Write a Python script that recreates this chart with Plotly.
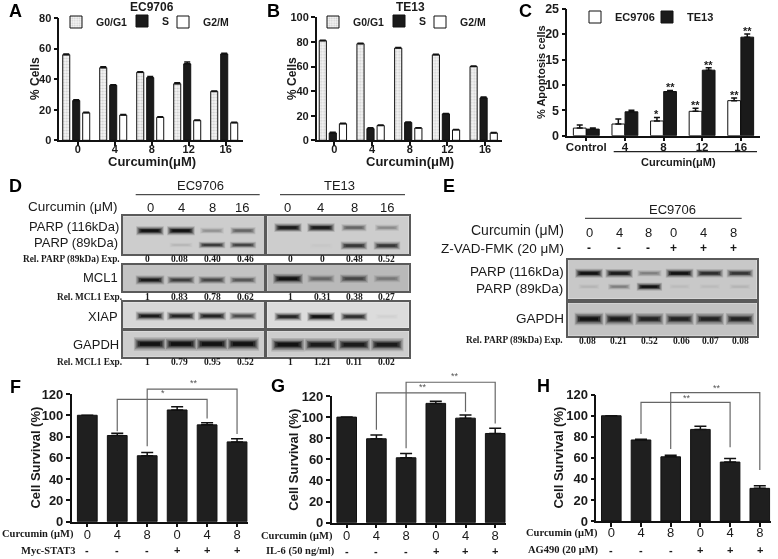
import plotly.graph_objects as go

W, H = 778, 559
SANS = "Liberation Sans"
SERIF = "Liberation Serif"

# ---------- data ----------
doses = ["0", "4", "8", "12", "16"]
a_g0g1 = [56, 47.5, 44.5, 37, 32]
a_g0g1_err = [0.5, 0.6, 0.3, 0.6, 0.3]
a_s = [26, 36, 41, 50, 56.5]
a_s_err = [0.6, 0.3, 0.8, 1.3, 0.5]
a_g2m = [18, 16.5, 15, 13, 11.5]
a_g2m_err = [0.4, 0.4, 0.4, 0.3, 0.3]

b_g0g1 = [81, 78.5, 75, 69.5, 60]
b_g0g1_err = [0.4, 0.4, 0.4, 0.4, 0.4]
b_s = [6, 9.5, 14.5, 21.5, 34.5]
b_s_err = [0.5, 0.8, 0.3, 0.3, 0.8]
b_g2m = [13.5, 12, 10, 8.5, 6]
b_g2m_err = [0.4, 0.4, 0.3, 0.3, 0.3]

c_labels = ["Control", "4", "8", "12", "16"]
c_ec = [1.5, 2.3, 2.9, 4.8, 6.9]
c_ec_err = [0.6, 1.0, 0.7, 0.6, 0.5]
c_te = [1.3, 4.7, 8.7, 12.9, 19.4]
c_te_err = [0.2, 0.3, 0.2, 0.5, 0.6]
c_ec_stars = ["", "", "*", "**", "**"]
c_te_stars = ["", "", "**", "**", "**"]

surv_labels = ["0", "4", "8", "0", "4", "8"]
plus_minus = ["-", "-", "-", "+", "+", "+"]
f_vals = [100, 81, 62, 105, 91, 75]
f_err = [0, 2, 3, 3, 2, 3]
g_vals = [100, 79.5, 61.5, 113, 99, 84.5]
g_err = [0, 3.5, 4, 2, 3, 5]
h_vals = [100, 77, 61, 87, 56, 31]
h_err = [0, 0.7, 1.5, 3, 3.5, 2.5]

# band darkness per lane
d_ec_parp116 = [1, 1, 0.3, 0.55]
d_ec_parp89 = [0, 0.12, 0.8, 0.75]
d_te_parp116 = [0.95, 0.95, 0.55, 0.35]
d_te_parp89 = [0, 0.03, 0.8, 0.8]
d_ec_mcl1 = [0.95, 0.75, 0.7, 0.6]
d_te_mcl1 = [1, 0.5, 0.7, 0.4]
d_ec_xiap = [0.95, 0.9, 0.9, 0.7]
d_te_xiap = [0.9, 1, 0.85, 0.05]
d_ec_gapdh = [1, 1, 1, 1]
d_te_gapdh = [1, 0.95, 0.95, 0.95]
d_e_parp116 = [1, 0.95, 0.4, 1, 0.85, 0.8]
d_e_parp89 = [0.1, 0.4, 1, 0.07, 0.07, 0.1]
d_e_gapdh = [1, 0.95, 0.9, 0.9, 0.9, 0.9]

rel_ec_parp = ["0", "0.08", "0.40", "0.46"]
rel_te_parp = ["0", "0", "0.48", "0.52"]
rel_ec_mcl1 = ["1", "0.83", "0.78", "0.62"]
rel_te_mcl1 = ["1", "0.31", "0.38", "0.27"]
rel_ec_xiap = ["1", "0.79", "0.95", "0.52"]
rel_te_xiap = ["1", "1.21", "0.11", "0.02"]
rel_e = ["0.08", "0.21", "0.52", "0.06", "0.07", "0.08"]
lanes_d = ["0", "4", "8", "16"]
lanes_e = ["0", "4", "8", "0", "4", "8"]

# ---------- helpers ----------
fig = go.Figure()
layout = {}
annots = []
shapes = []
n_ax = [0]


def px(x):
    return x / W


def py(y):
    return 1 - y / H


def txt(x, y, s, size=12, bold=False, family=SANS, anchor="center", angle=0, color="#1a1a1a"):
    annots.append(dict(x=px(x), y=py(y), xref="paper", yref="paper", text=s, showarrow=False,
                       xanchor=anchor, yanchor="middle", textangle=angle,
                       font=dict(size=size, family=family, color=color, weight=700 if bold else 400)))


def axes(l, t, r, b):
    n_ax[0] += 1
    k = n_ax[0]
    sfx = "" if k == 1 else str(k)
    xa, ya = "xaxis" + sfx, "yaxis" + sfx
    tx, ty = "x" + sfx, "y" + sfx
    layout[xa] = dict(domain=[px(l), px(r)], anchor=ty)
    layout[ya] = dict(domain=[py(b), py(t)], anchor=tx)
    return xa, ya, tx, ty


def chart(l, t, r, b, x0, dx, ymax, ydtick, ticktext, yfont, xfont, standoff=2):
    xa, ya, tx, ty = axes(l, t, r, b)
    layout[xa].update(range=[(l - x0) / dx, (r - x0) / dx], tickvals=list(range(len(ticktext))),
                      ticktext=ticktext, showline=True, linecolor="#111", linewidth=1.5,
                      ticks="outside", ticklen=4, tickwidth=1.5, tickcolor="#111", showgrid=False,
                      zeroline=False, tickfont=xfont, ticklabelstandoff=standoff, fixedrange=True)
    layout[ya].update(range=[0, ymax], dtick=ydtick, showline=True, linecolor="#111", linewidth=1.5,
                      ticks="outside", ticklen=4, tickwidth=1.5, tickcolor="#111", showgrid=False,
                      zeroline=False, tickfont=yfont, fixedrange=True)
    return tx, ty


def bar(tx, ty, vals, errs, name, color, offset, width, legend=None, pattern=None, errw=3):
    fig.add_trace(go.Bar(
        x=list(range(len(vals))), y=vals, name=name, xaxis=tx, yaxis=ty,
        width=width, offset=offset,
        marker=dict(color=color, line=dict(color="#111", width=1), pattern=pattern),
        error_y=dict(type="data", array=errs, arrayminus=[0] * len(errs), symmetric=False,
                     color="#111", thickness=1.5, width=errw),
        showlegend=legend is not None, legend=legend or "legend"))


def legend_item(key, x, y, size=10.5):
    layout[key] = dict(x=px(x), y=py(y), xref="container", yref="container", xanchor="left", yanchor="middle",
                       orientation="h", bgcolor="rgba(0,0,0,0)", borderwidth=0, itemclick=False,
                       font=dict(size=size, family=SANS, color="#1a1a1a", weight=700))


def mix(d, bg):
    return "rgb(%d,%d,%d)" % tuple(int(bg + (18 - bg) * d) for _ in range(3))


BAND_LAYERS = [(0.15, 9.0, 1.15), (0.35, 7.0, 1.08), (0.6, 5.0, 0.98), (0.85, 3.5, 0.88), (1.0, 2.2, 0.72)]


def blot(l, t, r, b, lane0, dlane, rows, bg=205):
    xa, ya, tx, ty = axes(l, t, r, b)
    layout[xa].update(range=[(l - lane0) / dlane, (r - lane0) / dlane], visible=True, showline=True,
                      mirror=True, linecolor="#5a5a5a", linewidth=1.5, showticklabels=False,
                      ticks="", showgrid=False, zeroline=False, fixedrange=True)
    layout[ya].update(range=[b, t], showline=True, mirror=True, linecolor="#5a5a5a", linewidth=1.5,
                      showticklabels=False, ticks="", showgrid=False, zeroline=False, fixedrange=True)
    shapes.append(dict(type="rect", xref=tx + " domain", yref=ty + " domain", x0=0, x1=1, y0=0, y1=1,
                       fillcolor=mix(0, bg), line=dict(width=0), layer="below"))
    for row_y, dark, thick, hw in rows:
        for lane, d in enumerate(dark):
            if d < 0.02:
                continue
            for frac, w, h in BAND_LAYERS:
                half = hw * h * (0.8 + 0.2 * d) / dlane
                fig.add_trace(go.Scatter(
                    x=[lane - half, lane + half], y=[row_y, row_y], mode="lines", xaxis=tx, yaxis=ty,
                    line=dict(color=mix(d * frac, bg), width=w * thick * (0.55 + 0.45 * d)),
                    showlegend=False, hoverinfo="skip"))


# ---------- panels A, B ----------
tickb = dict(size=11, family=SANS, color="#1a1a1a", weight=700)
dots = dict(shape=".", bgcolor="#f4f4f4", fgcolor="#a8a8a8", size=3, solidity=0.4)

tx, ty = chart(59.3, 18, 243, 140.3, 77.7, 37, 80, 20, doses, tickb, tickb, -6)
bar(tx, ty, a_g0g1, a_g0g1_err, "G0/G1", "#f0f0f0", -0.405, 0.19, "legend", dots)
bar(tx, ty, a_s, a_s_err, "S", "#1a1a1a", -0.135, 0.19, "legend2")
bar(tx, ty, a_g2m, a_g2m_err, "G2/M", "white", 0.135, 0.19, "legend3")
legend_item("legend", 56, 22)
legend_item("legend2", 122, 21)
legend_item("legend3", 163, 22)
txt(152, 7, "EC9706", 12, True)
txt(152, 161, "Curcumin(μM)", 13, True)
txt(35, 79, "% Cells", 12, True, angle=-90)

tx, ty = chart(316.7, 17.3, 501.7, 140.3, 334.3, 37.7, 100, 20, doses, tickb, tickb, -6)
bar(tx, ty, b_g0g1, b_g0g1_err, "G0/G1", "#f0f0f0", -0.40, 0.19, "legend4", dots)
bar(tx, ty, b_s, b_s_err, "S", "#1a1a1a", -0.135, 0.19, "legend5")
bar(tx, ty, b_g2m, b_g2m_err, "G2/M", "white", 0.135, 0.19, "legend6")
legend_item("legend4", 313, 22)
legend_item("legend5", 379, 21)
legend_item("legend6", 420, 22)
txt(410, 7, "TE13", 12, True)
txt(410, 161, "Curcumin(μM)", 13, True)
txt(292, 79, "% Cells", 12, True, angle=-90)

# ---------- panel C ----------
tickc = dict(size=11.5, family=SANS, color="#1a1a1a", weight=700)
tickcy = dict(size=12.5, family=SANS, color="#1a1a1a", weight=700)
tx, ty = chart(567.3, 8.7, 760.3, 135.7, 586.3, 38.6, 25, 5, c_labels, tickcy, tickc, -4)
bar(tx, ty, c_ec, c_ec_err, "EC9706", "white", -0.335, 0.33, "legend7")
bar(tx, ty, c_te, c_te_err, "TE13", "#1a1a1a", 0.005, 0.33, "legend8")
legend_item("legend7", 575, 17, 11)
legend_item("legend8", 647, 17, 11)
for i, s in enumerate(c_ec_stars):
    if s:
        annots.append(dict(x=i - 0.17, y=c_ec[i] + c_ec_err[i], xref=tx, yref=ty, text=s, showarrow=False,
                           yanchor="bottom", yshift=-5, font=dict(size=11, family=SANS, color="#1a1a1a", weight=700)))
for i, s in enumerate(c_te_stars):
    if s:
        annots.append(dict(x=i + 0.17, y=c_te[i] + c_te_err[i], xref=tx, yref=ty, text=s, showarrow=False,
                           yanchor="bottom", yshift=-5, font=dict(size=11, family=SANS, color="#1a1a1a", weight=700)))
shapes.append(dict(type="line", xref="paper", yref="paper", x0=px(613.7), x1=px(757), y0=py(151.7), y1=py(151.7),
                   line=dict(color="#222", width=1.3)))
txt(678, 162, "Curcumin(μM)", 11, True)
txt(541, 72, "% Apoptosis cells", 11, True, angle=-90)

# ---------- panel D ----------
txt(119.5, 206.7, "Curcumin (μM)", 13.5, anchor="right")
txt(200, 186, "EC9706", 13)
txt(339.3, 186, "TE13", 13)
shapes.append(dict(type="line", xref="paper", yref="paper", x0=px(135.7), x1=px(259.7), y0=py(194.7), y1=py(194.7), line=dict(color="#222", width=1)))
shapes.append(dict(type="line", xref="paper", yref="paper", x0=px(280), x1=px(405), y0=py(194.7), y1=py(194.7), line=dict(color="#222", width=1)))
for lab, x in zip(lanes_d, [150, 181.7, 212.3, 242]):
    txt(x, 207, lab, 13)
for lab, x in zip(lanes_d, [287.7, 320, 354, 386.7]):
    txt(x, 207, lab, 13)
txt(120.5, 226, "PARP (116kDa)", 13, anchor="right")
txt(120, 242.7, "PARP (89kDa)", 13, anchor="right")
txt(119.5, 278, "MCL1", 13, anchor="right")
txt(119.5, 316.7, "XIAP", 13, anchor="right")
txt(120.5, 344, "GAPDH", 13, anchor="right")
txt(122, 259.3, "Rel. PARP (89kDa) Exp.", 9.3, True, SERIF, "right")
txt(124, 296.7, "Rel. MCL1 Exp.", 9.3, True, SERIF, "right")
txt(124, 361.7, "Rel. MCL1 Exp.", 9.3, True, SERIF, "right")
x_ec, x_te = [147.7, 179, 212.7, 245], [290.7, 322.7, 354, 386.7]
for vals, xs, y in [(rel_ec_parp, x_ec, 259.3), (rel_te_parp, x_te, 259.3),
                    (rel_ec_mcl1, x_ec, 296.7), (rel_te_mcl1, x_te, 296.7),
                    (rel_ec_xiap, x_ec, 361.7), (rel_te_xiap, x_te, 361.7)]:
    for v, x in zip(vals, xs):
        txt(x, y, v, 9.5, True, SERIF)

blot(122.7, 216.3, 264, 254.3, 150, 31, [(230.7, d_ec_parp116, 1.0, 12), (245, d_ec_parp89, 0.8, 12)], 205)
blot(267.3, 216.3, 408.7, 254.3, 288, 33, [(227.7, d_te_parp116, 1.0, 12), (245.7, d_te_parp89, 1.0, 12)], 205)
blot(122.7, 265, 264, 291.3, 150, 31, [(280, d_ec_mcl1, 1.0, 12.5)], 195)
blot(267.3, 265, 408.7, 291.3, 288, 33, [(278.7, d_te_mcl1, 1.1, 13)], 185)
blot(122.7, 302.3, 264, 327.7, 150, 31, [(316, d_ec_xiap, 1.0, 12.5)], 215)
blot(267.3, 302.3, 408.7, 327.7, 288, 33, [(316.7, d_te_xiap, 1.0, 12)], 220)
blot(122.7, 331.3, 264, 356.7, 150, 31, [(344, d_ec_gapdh, 1.5, 14)], 205)
blot(267.3, 331.3, 408.7, 356.7, 288, 33, [(344.7, d_te_gapdh, 1.5, 14.5)], 205)

# ---------- panel E ----------
txt(672.3, 209.3, "EC9706", 13)
shapes.append(dict(type="line", xref="paper", yref="paper", x0=px(585), x1=px(741.7), y0=py(218.3), y1=py(218.3), line=dict(color="#222", width=1)))
txt(566, 230.3, "Curcumin (μM)", 14, anchor="right")
txt(566, 249, "Z-VAD-FMK (20 μM)", 13.5, anchor="right")
txt(566, 271, "PARP (116kDa)", 13.5, anchor="right")
txt(565, 288.3, "PARP (89kDa)", 13.5, anchor="right")
txt(566, 318.7, "GAPDH", 13.5, anchor="right")
txt(565, 340, "Rel. PARP (89kDa) Exp.", 9.3, True, SERIF, "right")
xs_lab = [589.3, 619, 648.3, 673.7, 703.7, 733.3]
for lab, pm, x in zip(lanes_e, plus_minus, xs_lab):
    txt(x, 232.3, lab, 13)
    txt(x, 248.5, pm, 12, True)
for v, x in zip(rel_e, [587.7, 618.7, 649.7, 681, 710.3, 740.3]):
    txt(x, 341, v, 9.5, True, SERIF)
blot(568.3, 260, 756.7, 298.7, 589, 30.2, [(273.3, d_e_parp116, 1.0, 12), (286.7, d_e_parp89, 0.9, 11)], 200)
blot(568.3, 303.3, 756.7, 335.7, 589, 30.2, [(319, d_e_gapdh, 1.4, 12.5)], 195)

# ---------- panels F, G, H ----------
ysurv = dict(size=13, family=SANS, color="#1a1a1a", weight=700)
xsurv = dict(size=13, family=SANS, color="#1a1a1a")


def survival(l, t, r, b, x0, dx, vals, errs, stars, brackets, row1, row2, yt_x, pm_y, standoff):
    tx, ty = chart(l, t, r, b, x0, dx, 120, 20, surv_labels, ysurv, xsurv, standoff)
    bar(tx, ty, vals, errs, "Cell Survival", "#1f1f1f", -0.33, 0.66, None, None, 6)
    # hidden overlay axes, taller than the chart, so that brackets may rise above 120
    extra = 25
    xa2, ya2, tx2, ty2 = axes(l, t - extra, r, b)
    layout[xa2].update(range=[(l - x0) / dx, (r - x0) / dx], visible=False, fixedrange=True)
    layout[ya2].update(range=[0, 120 * (b - t + extra) / (b - t)], visible=False, fixedrange=True)
    for i0, y0, top, i1, y1 in brackets:
        fig.add_trace(go.Scatter(x=[i0, i0, i1, i1], y=[y0, top, top, y1], mode="lines", xaxis=tx2, yaxis=ty2,
                                 line=dict(color="#666", width=1.2), showlegend=False, hoverinfo="skip"))
    for sx, sy, s in stars:
        txt(sx, sy, s, 9, False, color="#555")
    txt(yt_x, (t + b) / 2 + 0, "Cell Survival (%)", 13, True, angle=-90)
    txt(row1[0], row1[1], "Curcumin (μM)", 10.5, True, SERIF, "right")
    txt(row2[0], row2[1], row2[2], 10.5, True, SERIF, "right")
    for i, s in enumerate(plus_minus):
        txt(x0 + dx * i, pm_y, s, 11, True)


survival(71.7, 394, 248, 521.7, 87.3, 29.95, f_vals, f_err,
         [(163.3, 392.7, "*"), (194.3, 382.7, "**")],
         [(1, 85, 115, 4, 97), (2, 71, 124.5, 5, 82.5)],
         (76, 534), (76.5, 550, "Myc-STAT3"), 35.7, 550, -4)
survival(331.7, 396, 506, 522.7, 346.7, 29.7, g_vals, g_err,
         [(423.3, 387.3, "**"), (455, 376, "**")],
         [(1, 88, 123, 4, 105), (2, 70.5, 133, 5, 94)],
         (335.3, 535.7), (336.7, 551, "IL-6 (50 ng/ml)"), 293.3, 551, -4)
survival(596.3, 394.7, 770.7, 521, 611.3, 29.7, h_vals, h_err,
         [(687.3, 398.3, "**"), (717, 387.7, "**")],
         [(1, 82.6, 112.8, 4, 70), (2, 68.4, 122, 5, 48.5)],
         (599.7, 533.3), (600.7, 550, "AG490 (20 μM)"), 558.7, 550, -5)

# ---------- panel letters ----------
for s, x, y in [("A", 15, 11), ("B", 273, 11), ("C", 525, 11), ("D", 15, 186), ("E", 449, 186),
                ("F", 15, 386.7), ("G", 278, 386), ("H", 543, 386)]:
    txt(x, y, s, 18, True, color="#000")

fig.update_layout(
    width=W, height=H, margin=dict(l=0, r=0, t=0, b=0, autoexpand=False), paper_bgcolor="white",
    plot_bgcolor="rgba(0,0,0,0)", barmode="overlay", annotations=annots, shapes=shapes,
    hovermode=False, **layout)
fig.write_html("out.html", config={"displayModeBar": False},
               post_script="document.body.style.margin='0';document.documentElement.style.overflow='hidden';"
                           "document.querySelectorAll('.main-svg').forEach(function(s){s.style.willChange='transform';});")
